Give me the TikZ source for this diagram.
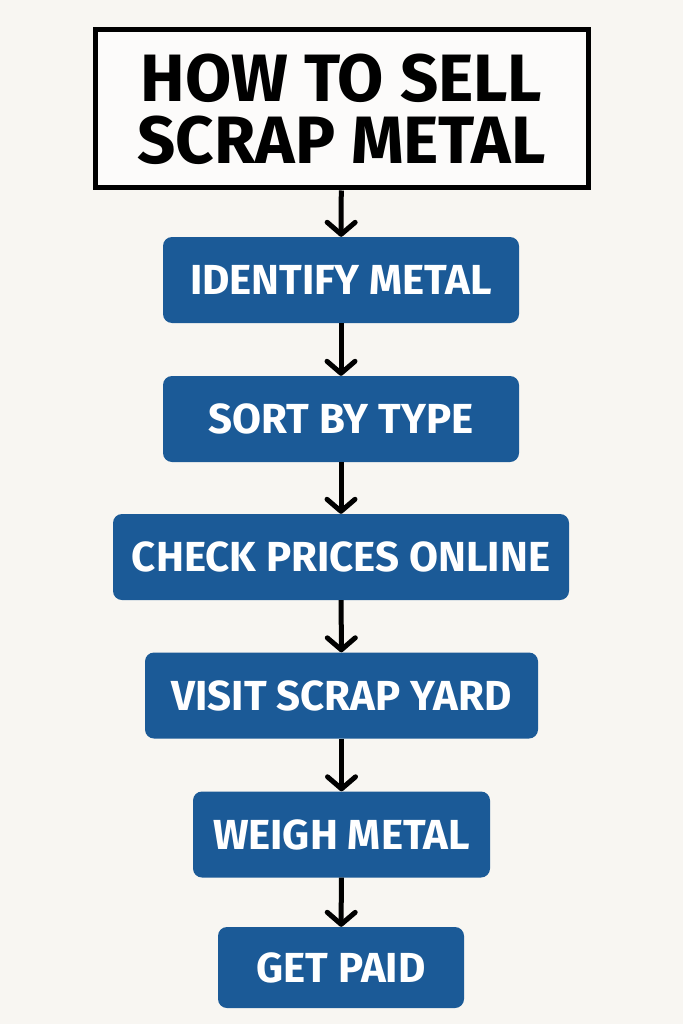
\documentclass[tikz,border=0pt]{standalone}
\usepackage{fontspec}
\setmainfont{Fira Sans}
\usetikzlibrary{arrows.meta}
\definecolor{paper}{HTML}{F8F6F2}
\definecolor{stepblue}{HTML}{1B5A97}
\begin{document}
\begin{tikzpicture}[x=1pt,y=-1pt,
  titlebox/.style={draw=black, line width=5pt, fill=white!60!paper, minimum width=493pt, minimum height=158pt, inner sep=0pt, align=center, font=\fontsize{67}{62}\selectfont\bfseries},
  stepbox/.style={fill=stepblue, text=white, rounded corners=9pt, minimum height=86pt, inner sep=0pt, font=\fontsize{42}{46}\selectfont\bfseries},
  flow/.style={line width=5pt, -{Straight Barb[length=12pt, width=28pt, line cap=round, line join=round]}}
  ]
	\fill[paper] (0,0) rectangle (683,1024);
	\useasboundingbox (0,0) rectangle (683,1024);

	\node[titlebox] (title) at (341.5,109) {HOW TO SELL\\SCRAP METAL};

	\node[stepbox, minimum width=356pt] (identify) at (341,280) {IDENTIFY METAL};
	\node[stepbox, minimum width=356pt] (sort) at (341,419) {SORT BY TYPE};
	\node[stepbox, minimum width=456pt] (check) at (341,557) {CHECK PRICES ONLINE};
	\node[stepbox, minimum width=393pt] (visit) at (341.5,695.5) {VISIT SCRAP YARD};
	\node[stepbox, minimum width=297pt] (weigh) at (341.5,834.5) {WEIGH METAL};
	\node[stepbox, minimum width=246pt, minimum height=81pt] (paid) at (341,967.5) {GET PAID};

	\draw[flow] (title) -- (identify);
	\draw[flow] (identify) -- (sort);
	\draw[flow] (sort) -- (check);
	\draw[flow] (check) -- (visit);
	\draw[flow] (visit) -- (weigh);
	\draw[flow] (weigh) -- (paid);
\end{tikzpicture}
\end{document}
